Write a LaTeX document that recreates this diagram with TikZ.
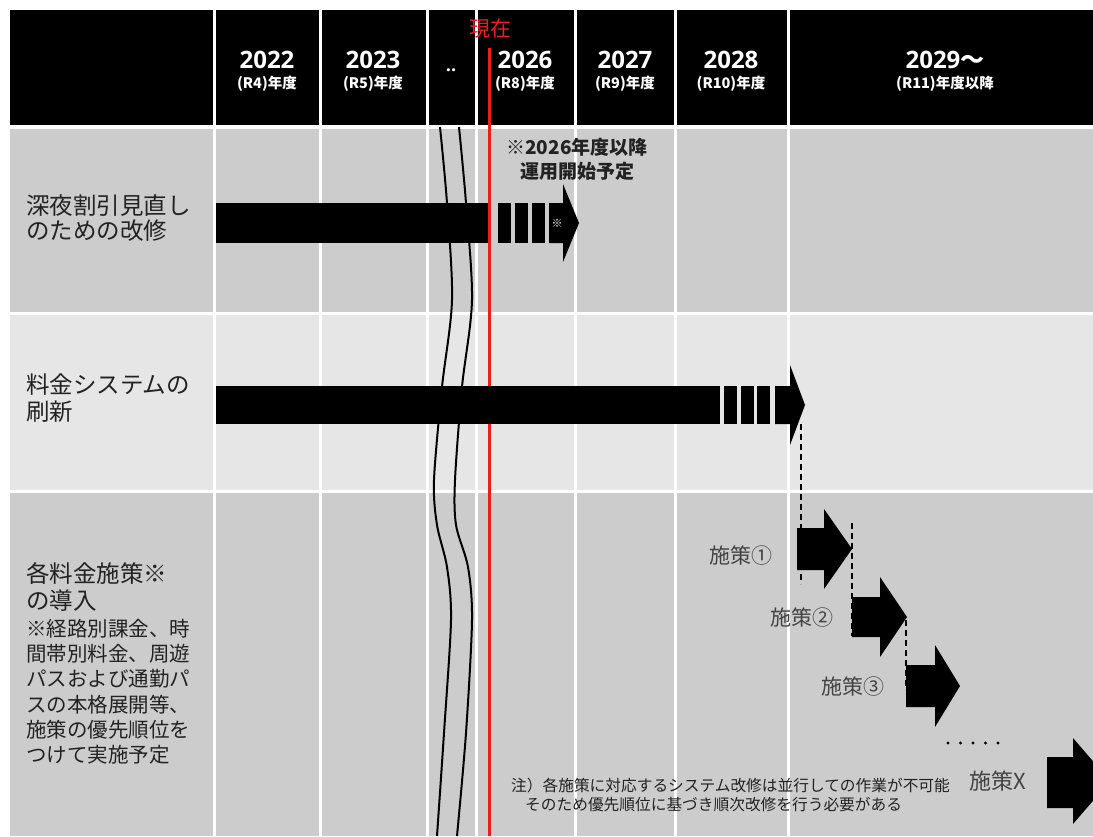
\documentclass[tikz,border=0pt]{standalone}
\usepackage{fontspec}
\setmainfont{Noto Sans CJK JP}
\newfontfamily\yearfont{Open Sans}
\definecolor{rowdark}{HTML}{CCCCCC}
\definecolor{rowlight}{HTML}{E6E6E6}
\definecolor{labeltext}{HTML}{222222}
\definecolor{nowred}{HTML}{EE1C1C}

\begin{document}
\begin{tikzpicture}[
  x=1pt,y=-1pt,
  line join=miter,
  sep/.style={draw=white,line width=3pt},
  yeartext/.style={text=white,font=\fontsize{24}{26}\yearfont\bfseries,inner sep=0pt,
    text height=0.72em,text depth=0pt},
  subtext/.style={text=white,font=\fontsize{14.5}{16}\selectfont\bfseries,inner sep=0pt,
    text height=0.8em,text depth=0.1em},
  rowlabel/.style={anchor=west,text=labeltext,inner sep=0pt,text height=0.8em,text depth=0.2em,
    font=\fontsize{23.5}{26}\selectfont},
  sublabel/.style={rowlabel,font=\fontsize{20.5}{24}\selectfont},
  steplabel/.style={text=labeltext!85,inner sep=0pt,font=\fontsize{21}{24}\selectfont},
  notetext/.style={anchor=west,text=labeltext,inner sep=0pt,font=\fontsize{15.7}{18}\selectfont},
  bar/.style={fill=black},
  wave/.style={draw=black,line width=2pt},
  nowline/.style={draw=nowred,line width=3pt},
  guide/.style={draw=black,line width=1.6pt,dash pattern=on 6pt off 4pt}
]
  \useasboundingbox (0,0) rectangle (1093,836);
  \clip (0,0) rectangle (1093,836);

  % header band and the three rows
  \fill[black] (10,10) rectangle (1093,125);
  \fill[rowdark] (10,129) rectangle (1093,312);
  \fill[rowlight] (10,315) rectangle (1093,490);
  \fill[rowdark] (10,493) rectangle (1093,836);

  % column separators
  \foreach \cx in {214,320,427,476,575,675,788} {
    \draw[sep] (\cx,10) -- (\cx,836);
  }

  % year headings
  \foreach \cx/\yr/\rr in {267/2022/R4,373/2023/R5,525/2026/R8,625/2027/R9,731/2028/R10} {
    \node[yeartext] (y\yr) at (\cx,65) {\yr};
    \node[subtext] (s\yr) at (\cx,85) {(\rr)年度};
  }
  \node[yeartext] (y2029) at (945,65) {2029{\rmfamily\bfseries〜}};
  \node[subtext] (s2029) at (945,85) {(R11)年度以降};
  \node[text=white,inner sep=0pt,font=\fontsize{18}{20}\yearfont\bfseries] (skip) at (451,70) {..};

  % broken time axis
  \draw[wave] plot[smooth] coordinates {(440,127) (447,203) (452,300) (442,387) (434,480)
    (437,525) (447,567) (451,620) (444,733) (437,836)};
  \draw[wave] plot[smooth] coordinates {(459,127) (466,203) (472,300) (462,387) (455,480)
    (456,525) (468,567) (472,620) (466,733) (457,836)};

  % present
  \draw[nowline] (489,48) -- (489,836);
  \node[text=nowred,inner sep=0pt,font=\fontsize{21}{22}\selectfont] (now) at (490,29) {現在};

  % row 1: late-night discount
  \fill[bar] (216,203) rectangle (488,243);
  \foreach \bx in {498,515,532} {
    \fill[bar] (\bx,203) rectangle ++(13,40);
  }
  \fill[bar] (549,203) -- (563,203) -- (563,184) -- (579,223) -- (563,262) -- (563,243) -- (549,243) -- cycle;
  \node[text=white,inner sep=0pt,font=\fontsize{11}{12}\selectfont] (mark) at (557,223) {※};
  \node[text=labeltext,inner sep=0pt,font=\fontsize{19}{20}\selectfont\bfseries] (start1) at (577,147) {※2026年度以降};
  \node[text=labeltext,inner sep=0pt,font=\fontsize{19}{20}\selectfont\bfseries] (start2) at (577,171) {運用開始予定};

  % row 2: fare system renewal
  \fill[bar] (216,386) rectangle (720,424);
  \foreach \bx in {724,741,757} {
    \fill[bar] (\bx,386) rectangle ++(13,38);
  }
  \fill[bar] (775,386) -- (790,386) -- (790,365) -- (805,405) -- (790,445) -- (790,424) -- (775,424) -- cycle;

  % row 3: staged fare measures
  \fill[bar] (797,528) -- (824,528) -- (824,509) -- (852,549) -- (824,589) -- (824,570) -- (797,570) -- cycle;
  \fill[bar] (852,597) -- (880,597) -- (880,577) -- (907,617) -- (880,657) -- (880,637) -- (852,637) -- cycle;
  \fill[bar] (906,665) -- (935,665) -- (935,645) -- (960,686) -- (935,727) -- (935,707) -- (906,707) -- cycle;
  \fill[bar] (1047,757) -- (1073,757) -- (1073,738) -- (1110,781) -- (1073,824) -- (1073,808) -- (1047,808) -- cycle;

  \coordinate (g1a) at (801,424);
  \coordinate (g1b) at (801,584);
  \coordinate (g2a) at (852,523);
  \coordinate (g2b) at (852,636);
  \coordinate (g3a) at (906,620);
  \coordinate (g3b) at (906,690);
  \draw[guide] (g1a) -- (g1b);
  \draw[guide] (g2a) -- (g2b);
  \draw[guide] (g3a) -- (g3b);

  \node[steplabel] (m1) at (741,556) {施策①};
  \node[steplabel] (m2) at (802,618) {施策②};
  \node[steplabel] (m3) at (853,687) {施策③};
  \node[steplabel,font=\fontsize{22}{24}\selectfont] (mx) at (998,781) {施策X};
  \foreach \dx in {948,960.5,973,985.5,998} {
    \fill[black] (\dx,743) circle[radius=1.6];
  }

  % row labels
  \node[rowlabel] (r1a) at (26,211) {深夜割引見直し};
  \node[rowlabel] (r1b) at (26,236) {のための改修};
  \node[rowlabel] (r2a) at (26,390) {料金システムの};
  \node[rowlabel] (r2b) at (26,417) {刷新};
  \node[rowlabel] (r3a) at (26,579) {各料金施策※};
  \node[rowlabel] (r3b) at (26,606) {の導入};
  \foreach \t [count=\i] in {※経路別課金、時,間帯別料金、周遊,パスおよび通勤パ,スの本格展開等、,施策の優先順位を,つけて実施予定} {
    \node[sublabel] (r3n\i) at (26,608+25.3*\i) {\t};
  }

  % note
  \node[notetext] (note1) at (511,786) {注）各施策に対応するシステム改修は並行しての作業が不可能};
  \node[notetext] (note2) at (525,805) {そのため優先順位に基づき順次改修を行う必要がある};
\end{tikzpicture}
\end{document}
